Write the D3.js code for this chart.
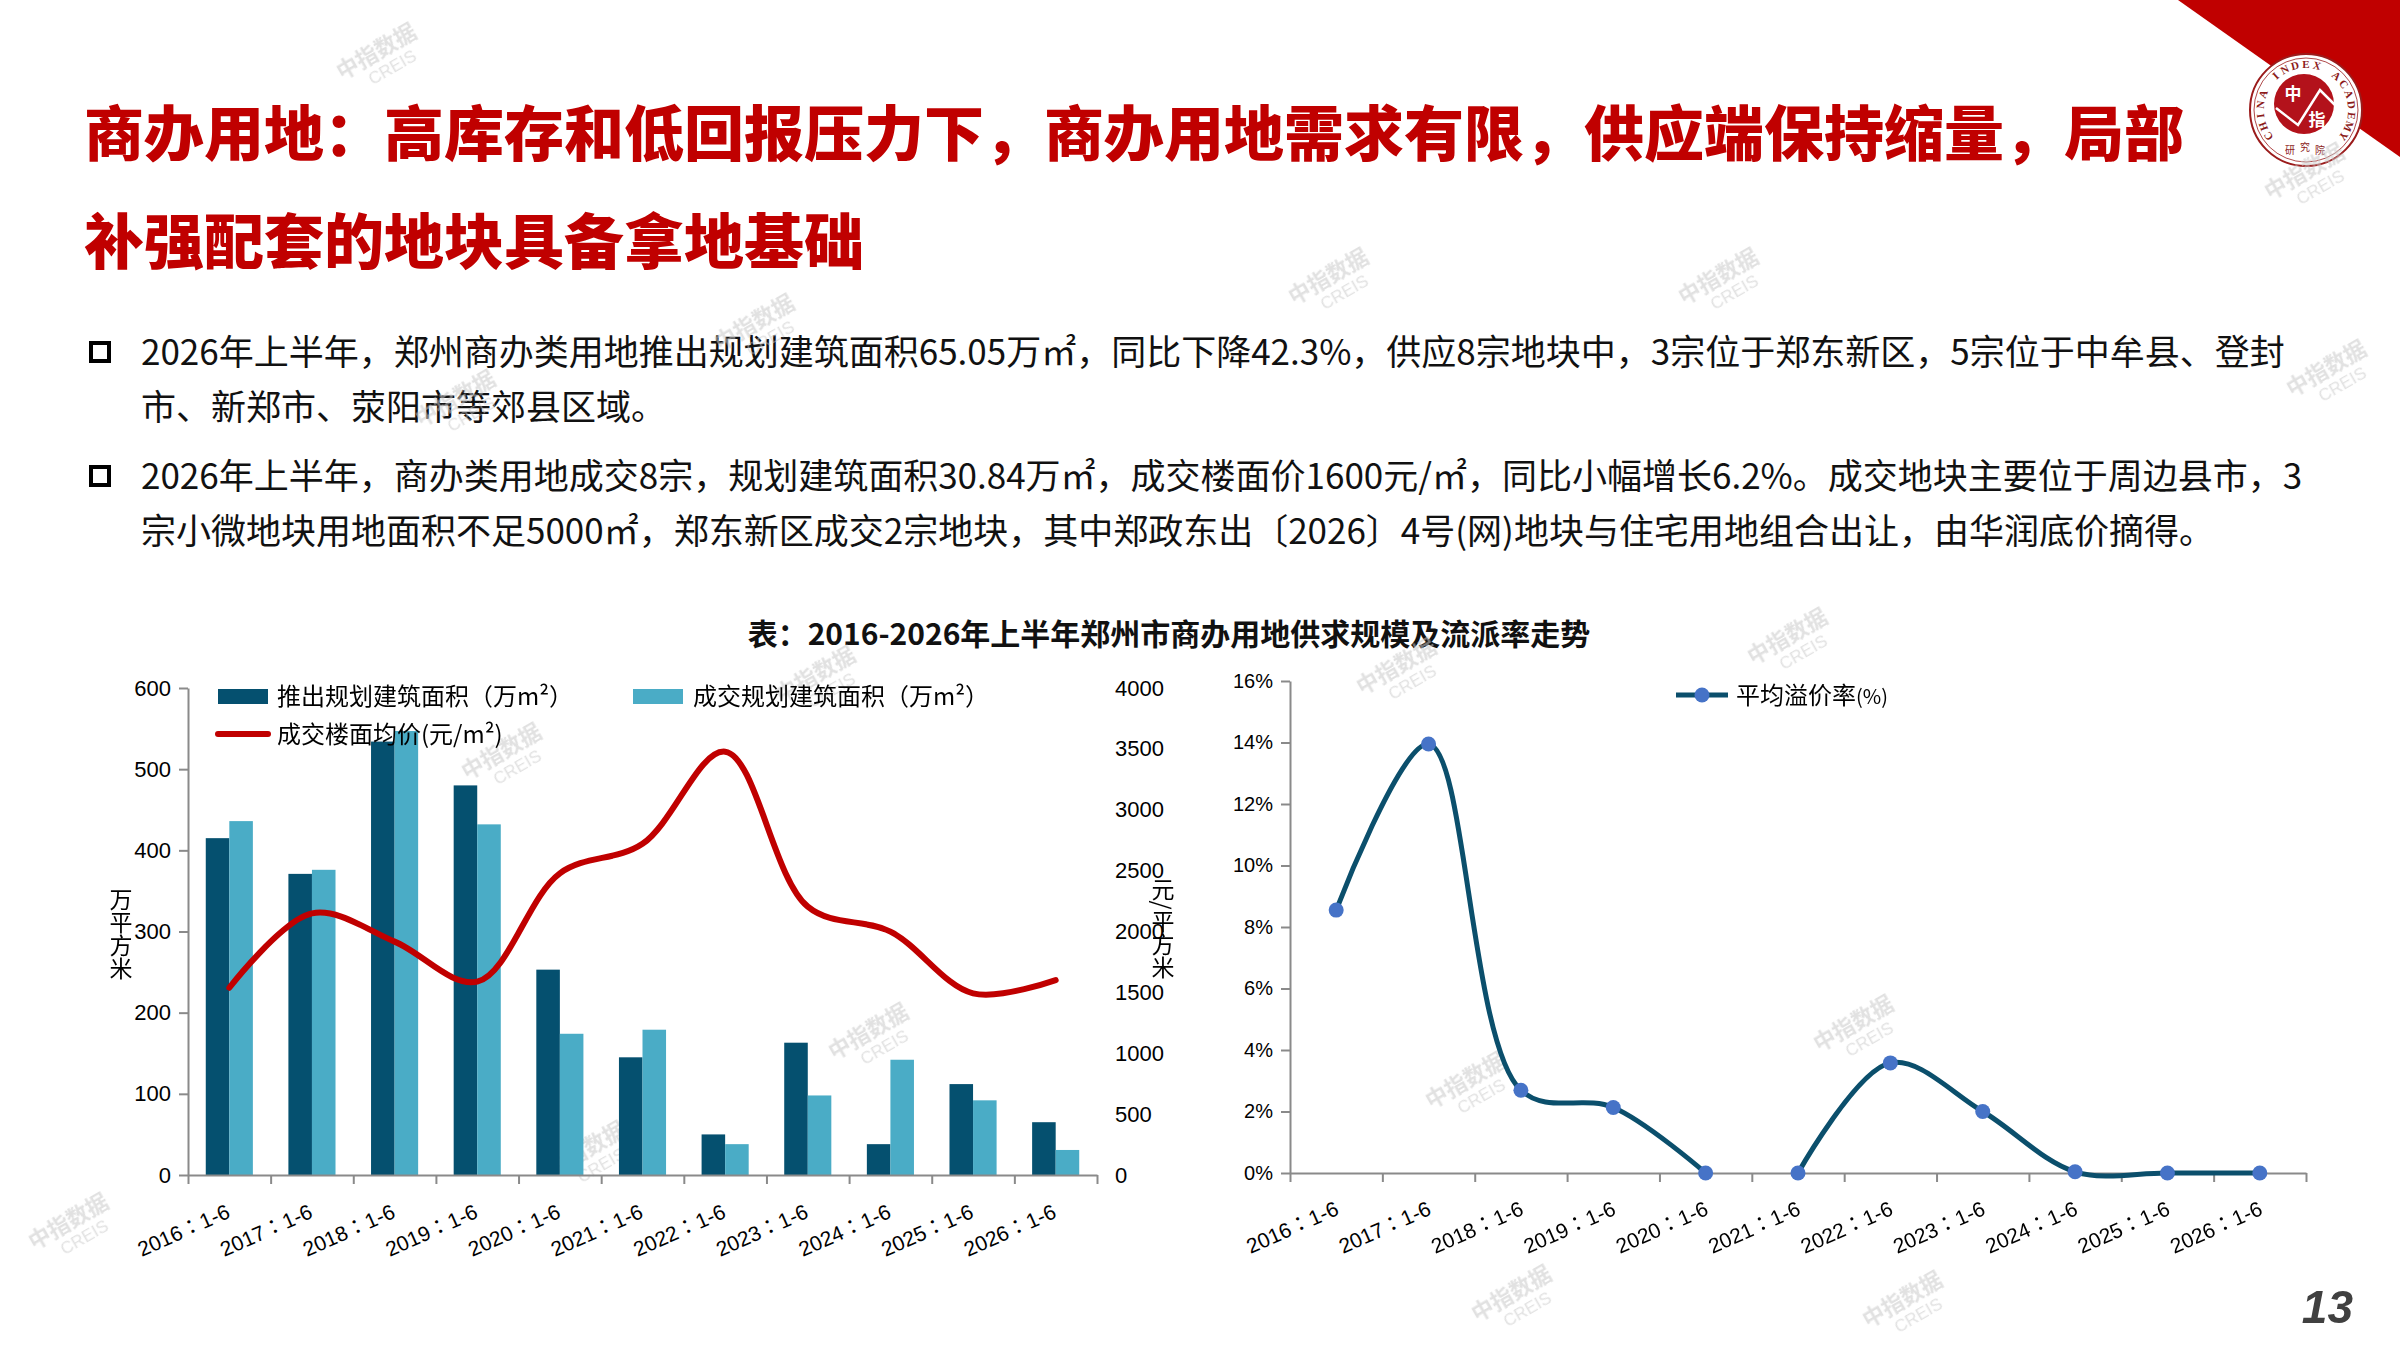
<!DOCTYPE html>
<html>
<head>
<meta charset="utf-8">
<script src="https://d3js.org/d3.v7.min.js"></script>
<style>
  body { margin: 0; background: #fff; }
  svg text { font-family: "Noto Sans CJK SC", "Noto Sans", sans-serif; }
  .num text, text.num { font-family: "Liberation Sans", Arial, sans-serif; }
  .xlab { font-family: "Liberation Sans", "Noto Sans CJK JP", sans-serif; font-size: 21px; fill: #000; }
  .domain, .tick line { stroke: #8a8a8a; stroke-width: 2; }
  .wm text { fill: #c9c9c9; }
</style>
</head>
<body>
<svg id="slide" width="2400" height="1350"></svg>
<script>
// ---- data ----
const categories = ["2016：1-6", "2017：1-6", "2018：1-6", "2019：1-6", "2020：1-6", "2021：1-6",
                    "2022：1-6", "2023：1-6", "2024：1-6", "2025：1-6", "2026：1-6"];
const supplyArea = [415, 371, 534, 480, 253, 145, 50, 163, 38, 112, 65.05];   // 推出规划建筑面积（万㎡）
const dealArea   = [436, 376, 547, 432, 174, 179, 38, 98, 142, 92, 30.84];    // 成交规划建筑面积（万㎡）
const dealPrice  = [1538, 2149, 1917, 1588, 2478, 2720, 3477, 2204, 1999, 1492, 1600]; // 元/㎡
const premiumRate = [8.55, 13.95, 2.69, 2.13, 0, 0, 3.58, 2.0, 0.04, 0, 0];   // %
const premiumBreakBefore = ["2021：1-6"];   // line is not joined into this point
const areaTicks  = [0, 100, 200, 300, 400, 500, 600];
const priceTicks = [0, 500, 1000, 1500, 2000, 2500, 3000, 3500, 4000];
const rateTicks  = [0, 2, 4, 6, 8, 10, 12, 14, 16];

const titleLines = ["商办用地：高库存和低回报压力下，商办用地需求有限，供应端保持缩量，局部",
                    "补强配套的地块具备拿地基础"];
const bullets = [
  ["2026年上半年，郑州商办类用地推出规划建筑面积65.05万㎡，同比下降42.3%，供应8宗地块中，3宗位于郑东新区，5宗位于中牟县、登封",
   "市、新郑市、荥阳市等郊县区域。"],
  ["2026年上半年，商办类用地成交8宗，规划建筑面积30.84万㎡，成交楼面价1600元/㎡，同比小幅增长6.2%。成交地块主要位于周边县市，3",
   "宗小微地块用地面积不足5000㎡，郑东新区成交2宗地块，其中郑政东出〔2026〕4号(网)地块与住宅用地组合出让，由华润底价摘得。"]
];
const chartTitle = "表：2016-2026年上半年郑州市商办用地供求规模及流派率走势";
const watermarks = [[1332,283],[1722,283],[758,329],[459,405],[2330,375],[2308,178],[380,58],
                    [819,681],[505,758],[1791,643],[1400,673],[872,1038],[1857,1030],[1469,1087],
                    [589,1156],[1515,1300],[1906,1306],[72,1228]];

const RED = "#c00000", DARK = "#05506f", LIGHT = "#4aacc6", LINE = "#0b4f6c", MARK = "#4673c7";

const svg = d3.select("#slide");

// ---- header ----
svg.append("polygon").attr("points", "2178,0 2400,0 2400,157").attr("fill", RED);

const logo = svg.append("g").attr("transform", "translate(2306,110)");
logo.append("circle").attr("r", 56).attr("fill", "#fff").attr("stroke", "#9b1b1b").attr("stroke-width", 2);
logo.append("circle").attr("r", 52).attr("fill", "none").attr("stroke", "#9b1b1b").attr("stroke-width", 0.8);
logo.append("circle").attr("cx", -2).attr("cy", -6).attr("r", 30).attr("fill", "#b3121b");
logo.append("path").attr("d", "M-30,-2 L-8,15 L14,-20 L31,-3").attr("fill", "none")
  .attr("stroke", "#fff").attr("stroke-width", 2.5);
logo.append("text").attr("x", -13).attr("y", -10).attr("text-anchor", "middle")
  .style("font-size", "17px").style("font-weight", 700).attr("fill", "#fff").text("中");
logo.append("text").attr("x", 11).attr("y", 16).attr("text-anchor", "middle")
  .style("font-size", "17px").style("font-weight", 700).attr("fill", "#fff").text("指");
// ring lettering, one glyph at a time
const ring = "CHINA INDEX ACADEMY".split("");
const a0 = -125, a1 = 125;
logo.selectAll("text.ring").data(ring).join("text").attr("class", "ring")
  .attr("text-anchor", "middle")
  .attr("transform", (d, i) => `rotate(${a0 + (a1 - a0) * i / (ring.length - 1)}) translate(0,-42)`)
  .style("font-family", "'Liberation Serif', serif").style("font-size", "11px").style("font-weight", 700)
  .attr("fill", "#8c1a1a").text(d => d);
logo.selectAll("text.seal").data(["研", "究", "院"]).join("text").attr("class", "seal")
  .attr("text-anchor", "middle").attr("x", (d, i) => -16 + i * 15).attr("y", (d, i) => 44 - (i === 1 ? 3 : 0))
  .style("font-size", "10px").attr("fill", "#8c1a1a").text(d => d);

svg.selectAll("text.title").data(titleLines).join("text").attr("class", "title")
  .attr("x", 84).attr("y", (d, i) => 156 + i * 108)
  .style("font-size", "60px").style("font-weight", 900).attr("fill", RED).text(d => d);

bullets.forEach((para, p) => {
  const top = 352 + p * 124;
  svg.append("rect").attr("x", 91).attr("y", top - 9).attr("width", 18).attr("height", 18)
    .attr("fill", "none").attr("stroke", "#000").attr("stroke-width", 4);
  svg.selectAll(null).data(para).join("text")
    .attr("x", 141).attr("y", (d, i) => top + 13 + i * 55)
    .style("font-size", "35px").attr("fill", "#111").text(d => d);
});

svg.append("text").attr("x", 1169).attr("y", 645).attr("text-anchor", "middle")
  .style("font-size", "30px").style("font-weight", 700).attr("fill", "#111").text(chartTitle);

// ---- watermarks ----
const wm = svg.append("g").attr("class", "wm").attr("opacity", 0.55);
watermarks.forEach(([x, y]) => {
  const g = wm.append("g").attr("transform", `translate(${x},${y}) rotate(-30)`);
  g.append("text").attr("text-anchor", "middle").style("font-size", "22px").style("font-weight", 700).text("中指数据");
  g.append("text").attr("text-anchor", "middle").attr("x", 6).attr("y", 20)
    .style("font-family", "'Liberation Sans', sans-serif").style("font-size", "17px").text("CREIS");
});

// ---- left chart: areas + price ----
const L = { x0: 188, x1: 1097, y0: 1175, y1: 688 };
const xL = d3.scaleBand().domain(categories).range([L.x0, L.x1]);
const xLi = d3.scaleLinear().domain([0, categories.length]).range([L.x0, L.x1]);
const yArea = d3.scaleLinear().domain([0, 600]).range([L.y0, L.y1]);
const yPrice = d3.scaleLinear().domain([0, 4000]).range([L.y0, L.y1]);
const bw = xL.bandwidth() * 0.285;
const cx = c => xL(c) + xL.bandwidth() / 2;

svg.append("g").selectAll("rect").data(categories).join("rect")
  .attr("x", c => cx(c) - bw).attr("width", bw)
  .attr("y", (c, i) => yArea(supplyArea[i])).attr("height", (c, i) => L.y0 - yArea(supplyArea[i]))
  .attr("fill", DARK);
svg.append("g").selectAll("rect").data(categories).join("rect")
  .attr("x", c => cx(c)).attr("width", bw)
  .attr("y", (c, i) => yArea(dealArea[i])).attr("height", (c, i) => L.y0 - yArea(dealArea[i]))
  .attr("fill", LIGHT);

svg.append("g").attr("class", "num").attr("transform", `translate(${L.x0},0)`)
  .call(d3.axisLeft(yArea).tickValues(areaTicks).tickSize(9).tickSizeOuter(0).tickPadding(8))
  .call(g => g.selectAll("text").style("font-size", "22px").attr("fill", "#000"));
svg.append("g").attr("class", "num").attr("transform", `translate(1115,0)`)
  .call(d3.axisRight(yPrice).tickValues(priceTicks).tickFormat(d3.format("d")).tickSize(0).tickPadding(0))
  .call(g => g.select(".domain").remove())
  .call(g => g.selectAll("text").style("font-size", "22px").attr("fill", "#000"));
svg.append("g").attr("transform", `translate(0,${L.y0})`)
  .call(d3.axisBottom(xLi).tickValues(d3.range(categories.length + 1)).tickSize(9).tickSizeOuter(0).tickFormat(() => ""));
svg.append("g").selectAll("text").data(categories).join("text").attr("class", "xlab")
  .attr("text-anchor", "end").attr("transform", c => `translate(${cx(c) + 2},${L.y0 + 42}) rotate(-24)`)
  .text(c => c);

svg.append("path").datum(categories)
  .attr("fill", "none").attr("stroke", RED).attr("stroke-width", 6).attr("stroke-linecap", "round")
  .attr("d", d3.line().curve(d3.curveCatmullRom.alpha(0.5)).x(c => cx(c)).y((c, i) => yPrice(dealPrice[i])));

svg.append("text").attr("x", 121).attr("y", 934).attr("text-anchor", "middle")
  .attr("writing-mode", "vertical-rl").style("font-size", "23px").attr("fill", "#000").text("万平方米");
svg.append("text").attr("x", 1163).attr("y", 928).attr("text-anchor", "middle")
  .attr("writing-mode", "vertical-rl").style("font-size", "23px").attr("fill", "#000").text("元/平方米");

// legend
svg.append("rect").attr("x", 218).attr("y", 689).attr("width", 50).attr("height", 15).attr("fill", DARK);
svg.append("text").attr("x", 277).attr("y", 705).style("font-size", "24px").text("推出规划建筑面积（万m²）");
svg.append("rect").attr("x", 633).attr("y", 689).attr("width", 50).attr("height", 15).attr("fill", LIGHT);
svg.append("text").attr("x", 693).attr("y", 705).style("font-size", "24px").text("成交规划建筑面积（万m²）");
svg.append("line").attr("x1", 218).attr("x2", 268).attr("y1", 734).attr("y2", 734)
  .attr("stroke", RED).attr("stroke-width", 6).attr("stroke-linecap", "round");
svg.append("text").attr("x", 277).attr("y", 743).style("font-size", "24px").text("成交楼面均价(元/m²)");

// ---- right chart: premium rate ----
const R = { x0: 1290, x1: 2306, y0: 1173, y1: 681 };
const xR = d3.scaleBand().domain(categories).range([R.x0, R.x1]);
const xRi = d3.scaleLinear().domain([0, categories.length]).range([R.x0, R.x1]);
const yRate = d3.scaleLinear().domain([0, 16]).range([R.y0, R.y1]);
const cxR = c => xR(c) + xR.bandwidth() / 2;

svg.append("g").attr("class", "num").attr("transform", `translate(${R.x0},0)`)
  .call(d3.axisLeft(yRate).tickValues(rateTicks).tickFormat(d => d + "%").tickSize(9).tickSizeOuter(0).tickPadding(8))
  .call(g => g.selectAll("text").style("font-size", "20px").attr("fill", "#000"));
svg.append("g").attr("transform", `translate(0,${R.y0})`)
  .call(d3.axisBottom(xRi).tickValues(d3.range(categories.length + 1)).tickSize(9).tickSizeOuter(0).tickFormat(() => ""));
svg.append("g").selectAll("text").data(categories).join("text").attr("class", "xlab")
  .attr("text-anchor", "end").attr("transform", c => `translate(${cxR(c) + 4},${R.y0 + 41}) rotate(-24)`)
  .text(c => c);

const rateLine = d3.line().curve(d3.curveCatmullRom.alpha(0.5)).x(c => cxR(c)).y(c => yRate(premiumRate[categories.indexOf(c)]));
const segments = [];
categories.forEach(c => {
  if (!segments.length || premiumBreakBefore.includes(c)) segments.push([]);
  segments[segments.length - 1].push(c);
});
svg.append("g").selectAll("path").data(segments).join("path")
  .attr("fill", "none").attr("stroke", LINE).attr("stroke-width", 5).attr("d", rateLine);
svg.append("g").selectAll("circle").data(categories).join("circle")
  .attr("cx", cxR).attr("cy", (c, i) => yRate(premiumRate[i])).attr("r", 7.5).attr("fill", MARK);

svg.append("line").attr("x1", 1676).attr("x2", 1728).attr("y1", 695).attr("y2", 695)
  .attr("stroke", LINE).attr("stroke-width", 5);
svg.append("circle").attr("cx", 1702).attr("cy", 695).attr("r", 7.5).attr("fill", MARK);
svg.append("text").attr("x", 1736).attr("y", 704).style("font-size", "24px")
  .text("平均溢价率").append("tspan").style("font-size", "20px").text("(%)");

// ---- page number ----
svg.append("text").attr("class", "num").attr("x", 2353).attr("y", 1323).attr("text-anchor", "end")
  .style("font-size", "46px").style("font-weight", 700).style("font-style", "italic")
  .attr("fill", "#404040").text("13");
</script>
</body>
</html>
